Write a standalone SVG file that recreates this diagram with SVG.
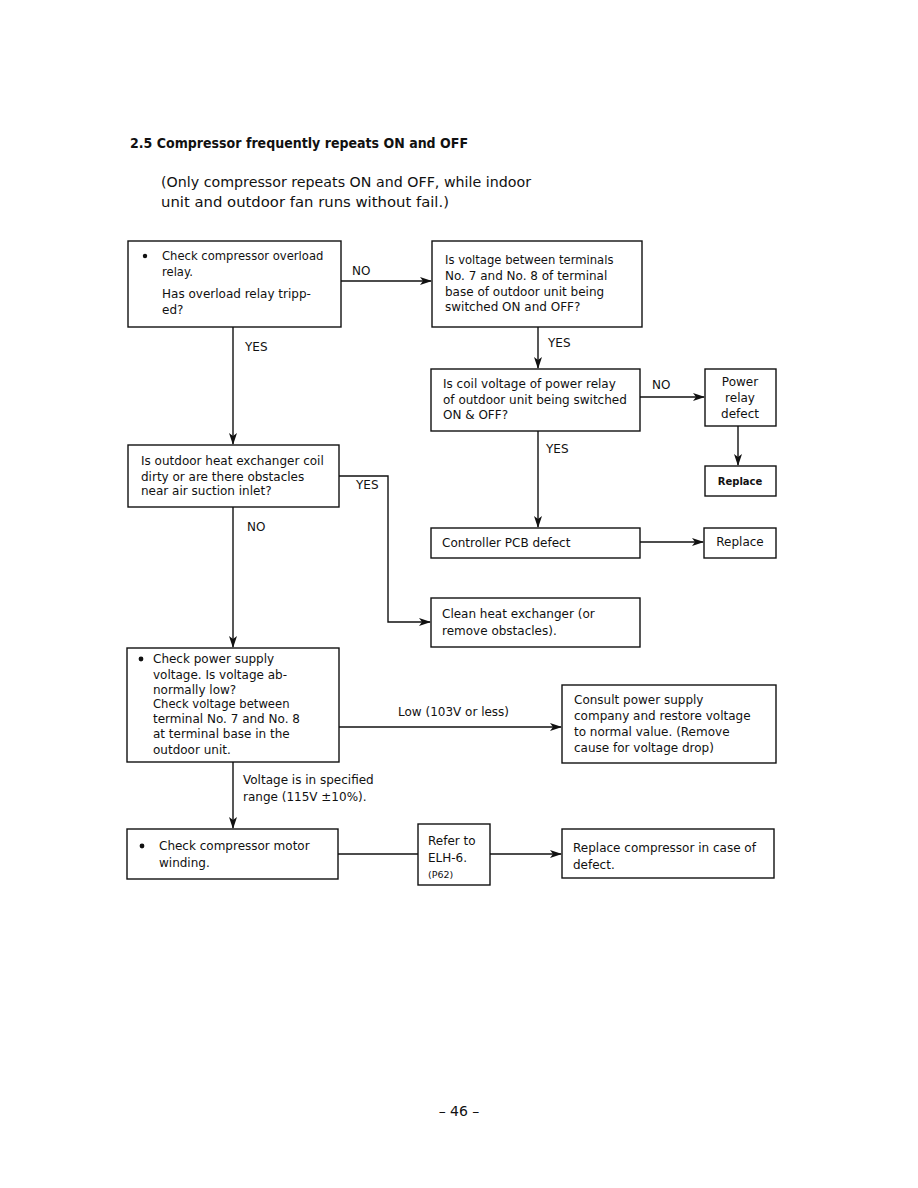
<svg xmlns="http://www.w3.org/2000/svg" width="918" height="1188" viewBox="0 0 918 1188">
<style>
text{font-family:"DejaVu Sans","Liberation Sans",Arial,sans-serif;fill:#111;font-size:12px}
.b{font-weight:bold}
.box{fill:#fff;stroke:#111;stroke-width:1.4}
.ln{fill:none;stroke:#111;stroke-width:1.4}
.t{font-size:14.5px}
.sm{font-size:11.6px}
</style>
<defs>
<marker id="ah" markerWidth="12" markerHeight="8" refX="11" refY="4" orient="auto" markerUnits="userSpaceOnUse">
<path d="M0,0 L12,4 L0,8 L3,4 Z" fill="#111"/>
</marker>
</defs>
<rect width="918" height="1188" fill="#fff"/>
<text x="130" y="148" class="b" style="font-size:13.5px" textLength="338" lengthAdjust="spacingAndGlyphs">2.5  Compressor frequently repeats ON and OFF</text>
<text x="161" y="187" class="t" textLength="370" lengthAdjust="spacingAndGlyphs">(Only compressor repeats ON and OFF, while indoor</text>
<text x="161" y="207" class="t" textLength="288" lengthAdjust="spacingAndGlyphs">unit and outdoor fan runs without fail.)</text>

<g id="connectors">
<line class="ln" x1="341" y1="281" x2="431" y2="281" marker-end="url(#ah)"/>
<text x="352" y="275">NO</text>
<line class="ln" x1="233" y1="327" x2="233" y2="444" marker-end="url(#ah)"/>
<text x="245" y="351">YES</text>
<line class="ln" x1="538" y1="327" x2="538" y2="368" marker-end="url(#ah)"/>
<text x="548" y="347">YES</text>
<line class="ln" x1="640" y1="397" x2="704" y2="397" marker-end="url(#ah)"/>
<text x="652" y="389">NO</text>
<line class="ln" x1="738" y1="426" x2="738" y2="465" marker-end="url(#ah)"/>
<line class="ln" x1="538" y1="431" x2="538" y2="527" marker-end="url(#ah)"/>
<text x="546" y="453">YES</text>
<line class="ln" x1="640" y1="542" x2="703" y2="542" marker-end="url(#ah)"/>
<polyline class="ln" points="339,476 388,476 388,622 430,622" marker-end="url(#ah)"/>
<text x="356" y="489">YES</text>
<line class="ln" x1="233" y1="507" x2="233" y2="647" marker-end="url(#ah)"/>
<text x="247" y="531">NO</text>
<line class="ln" x1="339" y1="727" x2="561" y2="727" marker-end="url(#ah)"/>
<text x="398" y="716">Low (103V or less)</text>
<line class="ln" x1="233" y1="762" x2="233" y2="828" marker-end="url(#ah)"/>
<text x="243" y="784">Voltage is in specified</text>
<text x="243" y="801">range (115V ±10%).</text>
<line class="ln" x1="338" y1="854" x2="418" y2="854"/>
<line class="ln" x1="490" y1="854" x2="561" y2="854" marker-end="url(#ah)"/>
</g>

<g id="n1">
<rect class="box" x="128" y="241" width="213" height="86"/>
<circle cx="145" cy="256" r="2.2" fill="#111"/>
<text x="162" y="260" class="sm">Check compressor overload</text>
<text x="162" y="276" class="sm">relay.</text>
<text x="162" y="298">Has overload relay tripp-</text>
<text x="162" y="314">ed?</text>
</g>
<g id="n2">
<rect class="box" x="432" y="241" width="210" height="86"/>
<text x="445" y="264" class="sm">Is voltage between terminals</text>
<text x="445" y="280">No. 7 and No. 8 of terminal</text>
<text x="445" y="296">base of outdoor unit being</text>
<text x="445" y="311">switched ON and OFF?</text>
</g>
<g id="n3">
<rect class="box" x="431" y="369" width="209" height="62"/>
<text x="443" y="388">Is coil voltage of power relay</text>
<text x="443" y="404">of outdoor unit being switched</text>
<text x="443" y="419">ON &amp; OFF?</text>
</g>
<g id="n4">
<rect class="box" x="705" y="369" width="71" height="57"/>
<text x="740" y="386" text-anchor="middle">Power</text>
<text x="740" y="402" text-anchor="middle">relay</text>
<text x="740" y="418" text-anchor="middle">defect</text>
</g>
<g id="n5">
<rect class="box" x="705" y="466" width="71" height="30"/>
<text x="740" y="485" text-anchor="middle" class="b" style="font-size:10px">Replace</text>
</g>
<g id="n6">
<rect class="box" x="128" y="445" width="211" height="62"/>
<text x="141" y="465">Is outdoor heat exchanger coil</text>
<text x="141" y="481">dirty or are there obstacles</text>
<text x="141" y="495">near air suction inlet?</text>
</g>
<g id="n7">
<rect class="box" x="431" y="528" width="209" height="30"/>
<text x="442" y="547">Controller PCB defect</text>
</g>
<g id="n8">
<rect class="box" x="704" y="528" width="72" height="30"/>
<text x="740" y="546" text-anchor="middle">Replace</text>
</g>
<g id="n9">
<rect class="box" x="431" y="598" width="209" height="49"/>
<text x="442" y="618">Clean heat exchanger (or</text>
<text x="442" y="635">remove obstacles).</text>
</g>
<g id="n10">
<rect class="box" x="127" y="648" width="212" height="114"/>
<circle cx="141" cy="659" r="2.4" fill="#111"/>
<text x="153" y="663">Check power supply</text>
<text x="153" y="679">voltage. Is voltage ab-</text>
<text x="153" y="694">normally low?</text>
<text x="153" y="708" class="sm">Check voltage between</text>
<text x="153" y="723">terminal No. 7 and No. 8</text>
<text x="153" y="738">at terminal base in the</text>
<text x="153" y="754">outdoor unit.</text>
</g>
<g id="n11">
<rect class="box" x="562" y="685" width="214" height="78"/>
<text x="574" y="704">Consult power supply</text>
<text x="574" y="720">company and restore voltage</text>
<text x="574" y="736">to normal value. (Remove</text>
<text x="574" y="752">cause for voltage drop)</text>
</g>
<g id="n12">
<rect class="box" x="127" y="829" width="211" height="50"/>
<circle cx="142" cy="846" r="2.4" fill="#111"/>
<text x="159" y="850">Check compressor motor</text>
<text x="159" y="867">winding.</text>
</g>
<g id="n13">
<rect class="box" x="418" y="824" width="72" height="61"/>
<text x="428" y="845">Refer to</text>
<text x="428" y="862">ELH-6.</text>
<text x="428" y="878" style="font-size:9.5px">(P62)</text>
</g>
<g id="n14">
<rect class="box" x="562" y="829" width="212" height="49"/>
<text x="573" y="852">Replace compressor in case of</text>
<text x="573" y="869">defect.</text>
</g>
<text x="459" y="1116" text-anchor="middle" style="font-size:14px">– 46 –</text>
</svg>
